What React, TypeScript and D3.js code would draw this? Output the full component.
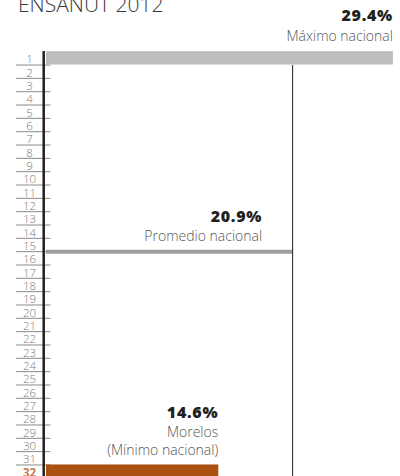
import React from "react";
import * as d3 from "d3";

const rankLabels = ["1","2","3","4","5","6","7","8","9","10","11","12","13","14","15","16","17","18","19","20","21","22","23","24","25","26","27","28","29","30","31","32"];
const barRanks = ["1", "32"];
const barValues = [29.4, 14.6];
const barColors = ["#bcbec0", "#a9520f"];
const barValueLabels = ["29.4%", "14.6%"];
const barNameLines = [["Máximo nacional"], ["Morelos", "(Mínimo nacional)"]];
const averageValue = 20.9;
const averageValueLabel = "20.9%";
const averageName = "Promedio nacional";
const title = "ENSANUT 2012";

const W = 400;
const H = 476;
const FONT = "'Open Sans', 'Noto Sans', sans-serif";

export default function App() {
  const y = d3.scaleBand<string>().domain(rankLabels).range([51.7, 478.3]).padding(0);
  const x = d3.scaleLinear().domain([0, 30]).range([46, 400]);
  const bw = y.bandwidth();

  const avgX = x(averageValue);
  const avgY = (y("15") as number) + bw;

  return (
    <svg width={W} height={H} style={{ position: "absolute", left: 0, top: 0, background: "#fff" }} fontFamily={FONT}>
      <text x={18} y={12} fontSize={21} fontWeight={300} fill="#3a3a3a">{title}</text>

      {/* row ticks and labels */}
      {rankLabels.map((r, i) => {
        const yt = y(r) as number;
        const last = i === rankLabels.length - 1;
        return (
          <g key={r}>
            <line x1={16} x2={50.5} y1={yt + bw} y2={yt + bw} stroke="#8a8a8a" strokeWidth={1} />
            <text
              x={29.5}
              y={yt + bw - 1.8}
              textAnchor="middle"
              fontSize={11.5}
              fontWeight={last ? 700 : 300}
              fill={last ? "#c8784c" : "#7a7a7a"}
            >{r}</text>
          </g>
        );
      })}

      {/* bars */}
      {barRanks.map((r, i) => (
        <rect key={r} x={x(0)} y={(y(r) as number) - 0.5} width={x(barValues[i]) - x(0)} height={bw} fill={barColors[i]} />
      ))}

      {/* average line */}
      <line x1={x(0)} x2={avgX} y1={avgY} y2={avgY} stroke="#9d9ea0" strokeWidth={4} />
      <line x1={avgX} x2={avgX} y1={(y("1") as number) + bw} y2={H} stroke="#231f20" strokeWidth={1} />

      {/* axis */}
      <line x1={43.7} x2={43.7} y1={51} y2={H} stroke="#231f20" strokeWidth={2.5} />

      {/* annotations */}
      <text x={x(barValues[0])} y={20.5} textAnchor="end" fontSize={16} fontWeight={800} fill="#231f20" letterSpacing={0.7}>{barValueLabels[0]}</text>
      <text x={x(barValues[0])} y={40.5} textAnchor="end" fontSize={14} fontWeight={300} fill="#555">{barNameLines[0][0]}</text>

      <text x={avgX - 30.5} y={221.5} textAnchor="end" fontSize={16} fontWeight={800} fill="#231f20" letterSpacing={0.7}>{averageValueLabel}</text>
      <text x={avgX - 30.5} y={240.5} textAnchor="end" fontSize={14} fontWeight={300} fill="#555">{averageName}</text>

      <text x={x(barValues[1])} y={418} textAnchor="end" fontSize={16} fontWeight={800} fill="#231f20" letterSpacing={0.7}>{barValueLabels[1]}</text>
      {barNameLines[1].map((t, j) => (
        <text key={t} x={x(barValues[1])} y={436.5 + j * 18.5} textAnchor="end" fontSize={14} fontWeight={300} fill="#555">{t}</text>
      ))}
    </svg>
  );
}
